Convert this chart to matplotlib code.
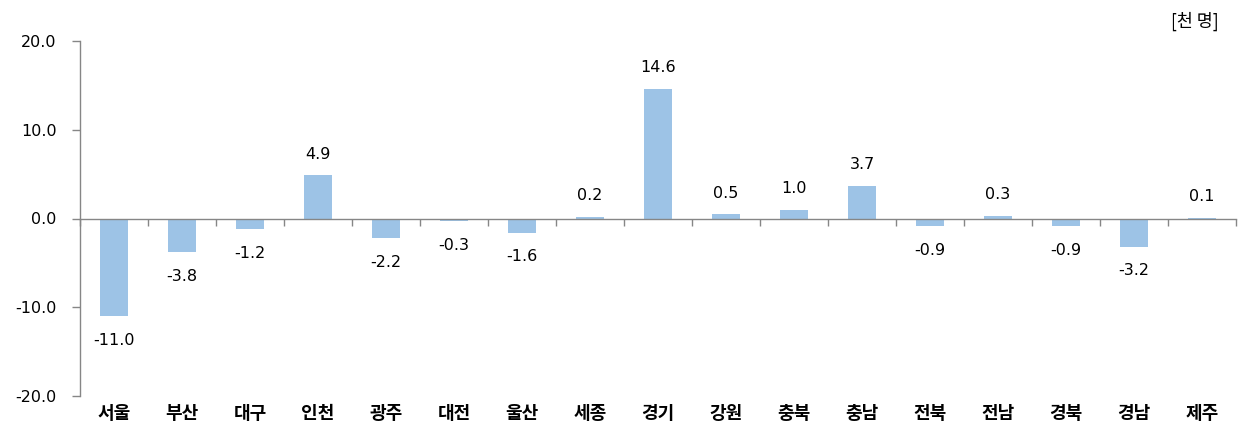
import matplotlib
matplotlib.use("Agg")
import matplotlib.pyplot as plt
from matplotlib.transforms import blended_transform_factory
import numpy as np

plt.rcParams['font.family'] = ['DejaVu Sans', 'Noto Sans CJK KR']

regions = ['서울', '부산', '대구', '인천', '광주', '대전', '울산', '세종', '경기',
           '강원', '충북', '충남', '전북', '전남', '경북', '경남', '제주']
values = [-11.0, -3.8, -1.2, 4.9, -2.2, -0.3, -1.6, 0.2, 14.6,
          0.5, 1.0, 3.7, -0.9, 0.3, -0.9, -3.2, 0.1]
yticks = [-20.0, -10.0, 0.0, 10.0, 20.0]
unit_label = '[천 명]'

bar_color = '#9DC3E6'
axis_color = '#868686'

fig = plt.figure(figsize=(12.4, 4.25), dpi=100)
ax = fig.add_axes([80 / 1240, 1 - 396 / 425, 1156 / 1240, 355 / 425])

x = np.arange(len(regions))
ax.bar(x, values, width=0.4, color=bar_color, zorder=2)

ax.set_xlim(-0.5, len(regions) - 0.5)
ax.set_ylim(-20, 20)
ax.set_yticks(yticks)
ax.set_yticklabels([f'{v:.1f}' for v in yticks], fontsize=11.5, color='#000000')
ax.tick_params(axis='y', length=6, width=1, color=axis_color, pad=11)

for s in ['top', 'right']:
    ax.spines[s].set_visible(False)
ax.spines['left'].set_color(axis_color)
ax.spines['left'].set_linewidth(1)
ax.spines['bottom'].set_position(('data', 0))
ax.spines['bottom'].set_color(axis_color)
ax.spines['bottom'].set_linewidth(1)
ax.spines['bottom'].set_zorder(3)

ax.set_xticks(np.arange(-0.5, len(regions), 1.0))
ax.set_xticklabels([])
ax.tick_params(axis='x', length=5, width=1, color=axis_color, direction='out')

trans = blended_transform_factory(ax.transData, ax.transAxes)
for xi, name in zip(x, regions):
    ax.text(xi, -0.05, name, transform=trans, ha='center', va='center',
            fontsize=13, fontweight='bold', family=['Noto Sans CJK KR'])

for xi, v in zip(x, values):
    if v >= 0:
        ax.annotate(f'{v:.1f}', (xi, v), xytext=(0, 21), textcoords='offset pixels',
                    ha='center', va='center', fontsize=11.5)
    else:
        ax.annotate(f'{v:.1f}', (xi, v), xytext=(0, -24), textcoords='offset pixels',
                    ha='center', va='center', fontsize=11.5)

fig.text(1195 / 1240, 1 - 21 / 425, unit_label, ha='center', va='center',
         fontsize=12.5, family=['Noto Sans CJK KR'])

fig.savefig('out.png', dpi=100)
